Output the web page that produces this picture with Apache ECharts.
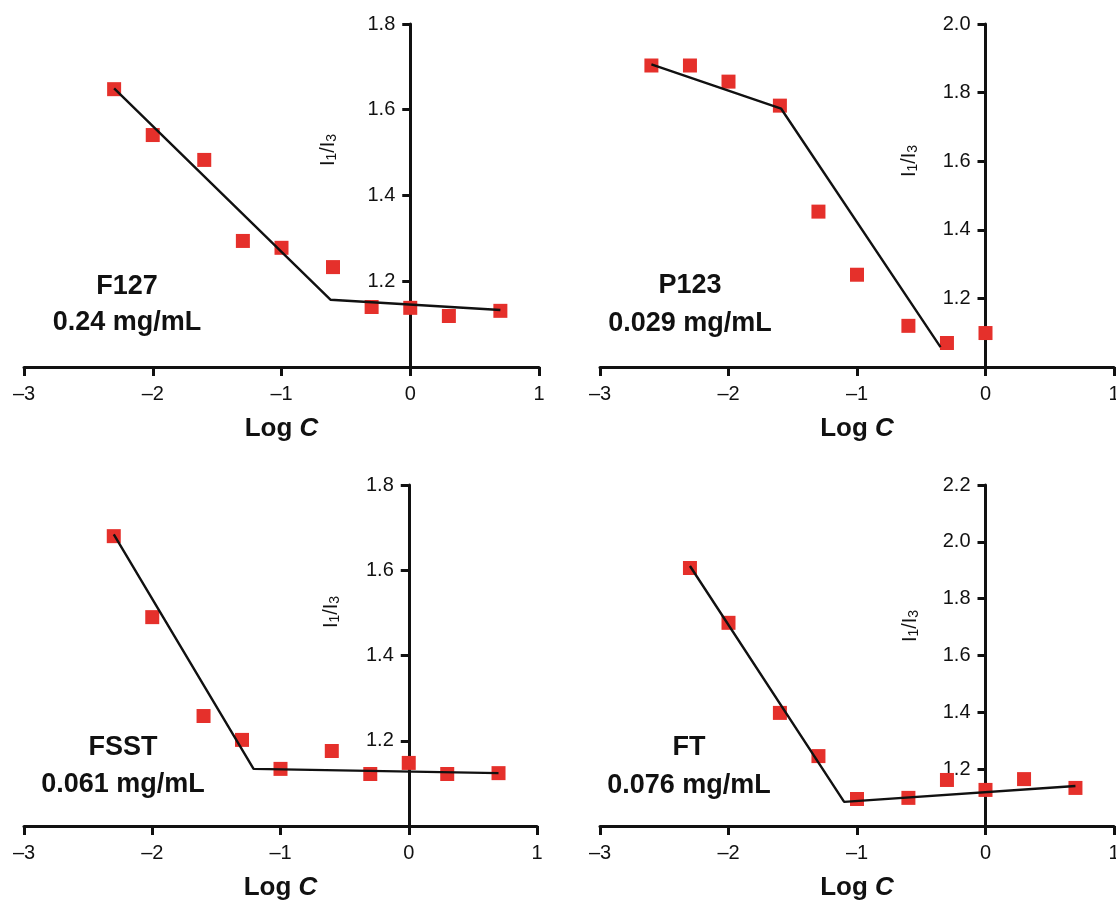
<!DOCTYPE html>
<html>
<head>
<meta charset="utf-8">
<script src="https://cdn.jsdelivr.net/npm/echarts@6/dist/echarts.min.js"></script>
<style>
  html, body { margin: 0; padding: 0; background: #fff; }
  #main { width: 1116px; height: 902px; }
</style>
</head>
<body>
<div id="main"></div>
<script>
// Log C values (x) for each sample
var logC = [-2.3, -2, -1.6, -1.3, -1, -0.6, -0.3, 0, 0.3, 0.7];
var logCP123 = [-2.6, -2.3, -2, -1.6, -1.3, -1, -0.6, -0.3, 0];

// I1/I3 ratio
var f127 = [1.648, 1.541, 1.483, 1.294, 1.278, 1.233, 1.140, 1.138, 1.119, 1.131];
var p123 = [1.879, 1.879, 1.832, 1.762, 1.453, 1.269, 1.120, 1.070, 1.099];
var fsst = [1.680, 1.490, 1.258, 1.202, 1.134, 1.176, 1.122, 1.148, 1.122, 1.124];
var ft = [1.908, 1.715, 1.398, 1.246, 1.095, 1.099, 1.162, 1.127, 1.165, 1.134];

// fitted lines (two segments, break = CMC)
var f127FitX = [-2.3, -0.62, 0.7];
var f127FitY = [1.650, 1.157, 1.133];
var p123FitX = [-2.6, -1.59, -0.35];
var p123FitY = [1.882, 1.753, 1.058];
var fsstFitX = [-2.3, -1.21, 0.7];
var fsstFitY = [1.684, 1.134, 1.124];
var ftFitX = [-2.3, -1.1, 0.7];
var ftFitY = [1.915, 1.085, 1.141];

// y axis ranges
var yMax = [1.8, 2.0, 1.8, 2.2];
var names = ['F127', 'P123', 'FSST', 'FT'];
var cmc = ['0.24 mg/mL', '0.029 mg/mL', '0.061 mg/mL', '0.076 mg/mL'];

var font = '"Liberation Sans", Arial, sans-serif';

function pairs(xs, ys) {
    var out = [];
    xs.map((x, i) => { out.push([x, ys[i]]); });
    return out;
}

var grids = [
    { left: 24, right: 577, top: 24, bottom: 535 },
    { left: 600, right: 2, top: 24, bottom: 535 },
    { left: 24, right: 579, top: 485, bottom: 76 },
    { left: 600, right: 2, top: 485, bottom: 76 }
];

var points = [pairs(logC, f127), pairs(logCP123, p123), pairs(logC, fsst), pairs(logC, ft)];
var fits = [pairs(f127FitX, f127FitY), pairs(p123FitX, p123FitY), pairs(fsstFitX, fsstFitY), pairs(ftFitX, ftFitY)];

var xAxes = [], yAxes = [], series = [];
grids.map((g, i) => {
    g.outerBoundsMode = 'none';
    var width = 1116 - g.left - g.right;
    xAxes.push({
        type: 'value', gridIndex: i, min: -3, max: 1, interval: 1,
        axisLine: { onZero: false, lineStyle: { color: '#111', width: 3 } },
        axisTick: { length: 9, lineStyle: { color: '#111', width: 3 } },
        axisLabel: {
            color: '#111', fontSize: 20, fontFamily: font, margin: 17,
            formatter: v => String(v).replace('-', '\u2013')
        },
        splitLine: { show: false },
        name: '{b|Log }{i|C}',
        nameLocation: 'middle',
        nameGap: 49,
        nameTextStyle: {
            rich: {
                b: { fontSize: 26, fontWeight: 'bold', fontFamily: font, color: '#111' },
                i: { fontSize: 26, fontWeight: 'bold', fontStyle: 'italic', fontFamily: font, color: '#111' }
            }
        }
    });
    // y axis sits at log C = 0 (3/4 of the way across)
    yAxes.push({
        type: 'value', gridIndex: i, min: 1, max: yMax[i], interval: 0.2,
        offset: -width * 0.75,
        axisLine: { onZero: false, lineStyle: { color: '#111', width: 3 } },
        axisTick: { length: 8, lineStyle: { color: '#111', width: 3 } },
        axisLabel: {
            color: '#111', fontSize: 20, fontFamily: font, margin: 15,
            showMinLabel: false,
            formatter: v => v.toFixed(1)
        },
        splitLine: { show: false }
    });
    series.push({
        type: 'scatter', xAxisIndex: i, yAxisIndex: i,
        symbol: 'rect', symbolSize: 14,
        itemStyle: { color: '#e5302b', opacity: 1 },
        data: points[i], z: 2
    });
    series.push({
        type: 'line', xAxisIndex: i, yAxisIndex: i,
        showSymbol: false, symbol: 'none',
        lineStyle: { color: '#111', width: 2.4 },
        data: fits[i], z: 3
    });
});

// sample names + CMC, and the I1/I3 axis titles
var labelPos = [[127, 287, 323], [690, 286, 324], [123, 748, 785], [689, 748, 786]];
var ratioPos = [[329, 150], [910, 161], [332, 612], [911, 626]];
var graphics = [];
labelPos.map((p, i) => {
    graphics.push({
        type: 'text', x: p[0], y: p[1],
        style: { text: names[i], fontSize: 27, fontWeight: 'bold', fontFamily: font, fill: '#111', align: 'center', verticalAlign: 'middle' }
    });
    graphics.push({
        type: 'text', x: p[0], y: p[2],
        style: { text: cmc[i], fontSize: 27, fontWeight: 'bold', fontFamily: font, fill: '#111', align: 'center', verticalAlign: 'middle' }
    });
});
ratioPos.map(p => {
    graphics.push({
        type: 'text', x: p[0], y: p[1], rotation: Math.PI / 2,
        style: {
            text: '{a|I}{s|1}{a|/I}{s|3}',
            align: 'center', verticalAlign: 'middle',
            rich: {
                a: { fontSize: 20, fontFamily: font, fill: '#111', lineHeight: 21, verticalAlign: 'top' },
                s: { fontSize: 14, fontFamily: font, fill: '#111', lineHeight: 14, verticalAlign: 'bottom', padding: [11, 0, 0, 0] }
            }
        }
    });
});

var echart = echarts.init(document.getElementById('main'));
var option = {
    backgroundColor: '#fff',
    animation: false,
    grid: grids,
    xAxis: xAxes,
    yAxis: yAxes,
    series: series,
    graphic: graphics
};
echart.setOption(option);
</script>
</body>
</html>
